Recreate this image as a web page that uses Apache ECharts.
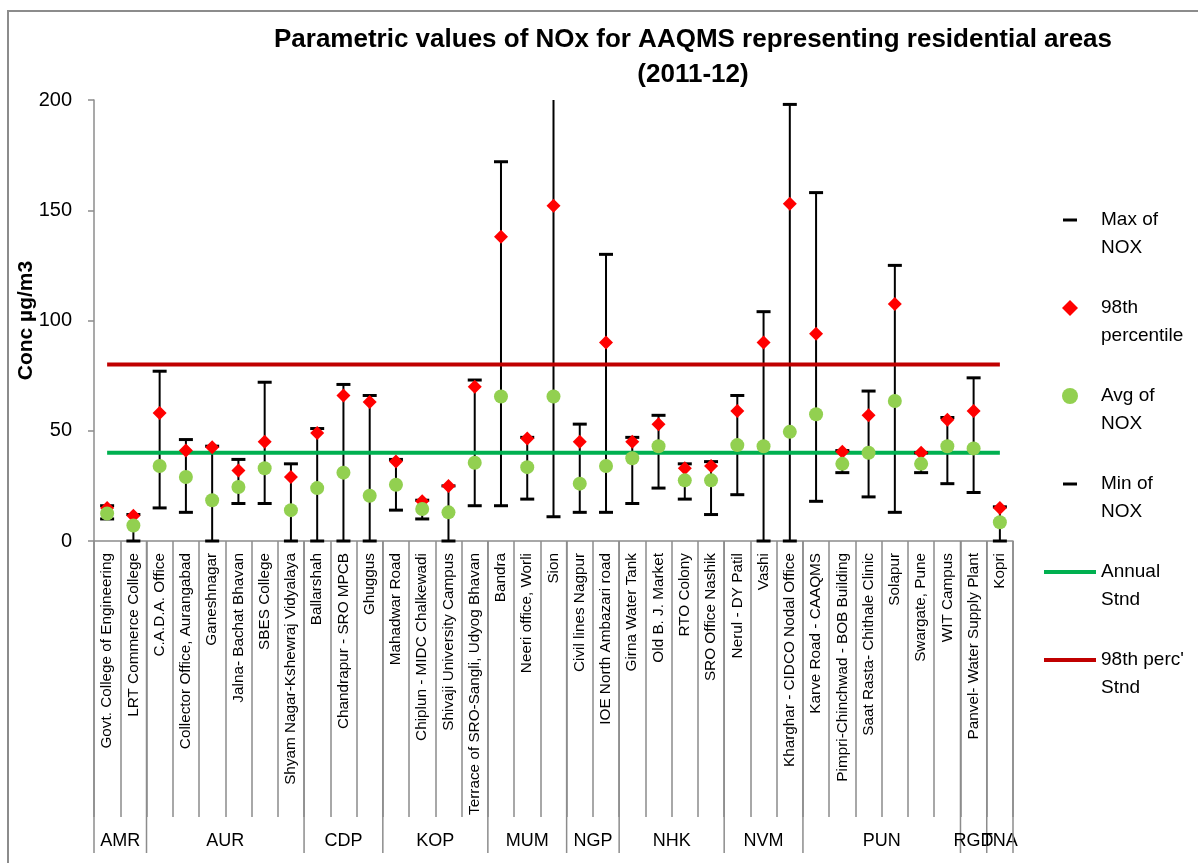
<!DOCTYPE html>
<html>
<head>
<meta charset="utf-8">
<script src="https://cdn.jsdelivr.net/npm/echarts@6/dist/echarts.min.js"></script>
<style>
html,body{margin:0;padding:0;background:#fff;}
#chart{width:1198px;height:863px;}
</style>
</head>
<body>
<div id="chart"></div>
<script>
const stations = ["Govt. College of Engineering","LRT Commerce College","C.A.D.A. Office","Collector Office, Aurangabad","Ganeshnagar","Jalna- Bachat Bhavan","SBES College","Shyam Nagar-Kshewraj Vidyalaya","Ballarshah","Chandrapur - SRO MPCB","Ghuggus","Mahadwar Road","Chiplun - MIDC Chalkewadi","Shivaji University Campus","Terrace of SRO-Sangli, Udyog Bhavan","Bandra","Neeri office, Worli","Sion","Civil lines Nagpur","IOE North Ambazari road","Girna Water Tank","Old B. J. Market","RTO Colony","SRO Office Nashik","Nerul - DY Patil","Vashi","Kharghar - CIDCO Nodal Office","Karve Road - CAAQMS","Pimpri-Chinchwad - BOB Building","Saat Rasta- Chithale Clinic","Solapur","Swargate, Pune","WIT Campus","Panvel- Water Supply Plant","Kopri"];
const maxNOX = [16,12,77,46,43,37,72,35,51,71,66,37,18.5,25,73,172,47,210,53,130,47,57,35,36,66,104,198,158,41,68,125,40,56,74,15.5];
const p98NOX = [15,11.5,58,41,42.5,32,45,29,49,66,63,36,18,25,70,138,46.5,152,45,90,45,53,33,34,59,90,153,94,40.5,57,107.5,40,55,59,15];
const avgNOX = [12.5,7,34,29,18.5,24.5,33,14,24,31,20.5,25.5,14.5,13,35.5,65.5,33.5,65.5,26,34,37.5,43,27.5,27.5,43.5,43,49.5,57.5,35,40,63.5,35,43,42,8.5];
const minNOX = [10,0,15,13,0,17,17,0,0,0,0,14,10,0,16,16,19,11,13,13,17,24,19,12,21,0,0,18,31,20,13,31,26,22,0];
const groupNames = ["AMR","AUR","CDP","KOP","MUM","NGP","NHK","NVM","PUN","RGD","TNA"];
const groupStart = [0,2,8,11,15,18,20,24,27,33,34];
const groupEnd   = [2,8,11,15,18,20,24,27,33,34,35];
const annualStnd = 40;
const perc98Stnd = 80;
const yTicks = [0,50,100,150,200];

const FONT = "'Liberation Sans Narrow','Arial Narrow','Liberation Sans',Arial,sans-serif";
const annualLine = stations.map(() => annualStnd);
const percLine = stations.map(() => perc98Stnd);

const iconW = 52;
const dashIcon = 'path://M0,0M' + iconW + ',16M' + (iconW/2 - 7) + ',6.5h14v3h-14Z';
const diamondIcon = 'path://M0,0M' + iconW + ',16M' + (iconW/2) + ',0l8,8l-8,8l-8,-8Z';
const lineIcon = 'path://M0,6H' + iconW + 'V10H0Z';

const firstLine = {"Max of NOX":"Max of","98th percentile":"98th","Avg of NOX":"Avg of","Min of NOX":"Min of","Annual Stnd":"Annual","98th perc' Stnd":"98th perc'"};
const secondLine = {"Max of NOX":"NOX","98th percentile":"percentile","Avg of NOX":"NOX","Min of NOX":"NOX","Annual Stnd":"Stnd","98th perc' Stnd":"Stnd"};
const legendNames = ["Max of NOX","98th percentile","Avg of NOX","Min of NOX","Annual Stnd","98th perc' Stnd"];
const legendIcons = {"Max of NOX": dashIcon, "98th percentile": diamondIcon, "Avg of NOX": 'circle', "Min of NOX": dashIcon, "Annual Stnd": lineIcon, "98th perc' Stnd": lineIcon};

const chart = echarts.init(document.getElementById('chart'));
const legendCommon = {
  orient: 'vertical', left: 1044, padding: 0, itemWidth: iconW, itemHeight: 16, itemGap: 68, selectedMode: false,
  textStyle: {fontFamily: FONT, fontSize: 19, color: '#000', lineHeight: 20}
};
chart.setOption({
  animation: false,
  backgroundColor: '#fff',
  graphic: [{type: 'rect', shape: {x: 8, y: 11, width: 1200, height: 900}, style: {fill: 'none', stroke: '#8c8c8c', lineWidth: 2}, z: -10}],
  title: {
    text: 'Parametric values of NOx for AAQMS representing residential areas\n(2011-12)',
    left: 688, top: 17, textAlign: 'center',
    textStyle: {fontFamily: FONT, fontWeight: 'bold', fontSize: 26, lineHeight: 35, color: '#000'}
  },
  legend: [
    Object.assign({}, legendCommon, {
      top: 210,
      data: legendNames.map(n => ({name: n, icon: legendIcons[n]})),
      formatter: n => firstLine[n]
    }),
    Object.assign({}, legendCommon, {
      top: 238,
      data: legendNames.map(n => ({name: n, icon: 'none'})),
      formatter: n => secondLine[n]
    })
  ],
  grid: {left: 94, right: 185, top: 100, bottom: 322, containLabel: false},
  xAxis: {
    type: 'category', data: stations, boundaryGap: true,
    axisLine: {lineStyle: {color: '#8c8c8c', width: 1.5}},
    axisTick: {show: true, interval: 0, length: 276, lineStyle: {color: '#8c8c8c', width: 1.5}},
    axisLabel: {interval: 0, rotate: 90, margin: 12, fontFamily: FONT, fontSize: 15.3, color: '#000'},
    splitLine: {show: false}
  },
  yAxis: {
    type: 'value', min: 0, max: 200, interval: 50,
    name: 'Conc µg/m3', nameLocation: 'middle', nameGap: 57, nameRotate: 90, nameMoveOverlap: false,
    nameTextStyle: {fontFamily: FONT, fontWeight: 'bold', fontSize: 21, color: '#000'},
    axisLine: {show: true, lineStyle: {color: '#8c8c8c', width: 1.5}},
    axisTick: {show: true, length: 6, lineStyle: {color: '#8c8c8c', width: 1.5}},
    axisLabel: {fontFamily: FONT, fontSize: 20, color: '#000', margin: 22},
    splitLine: {show: false}
  },
  series: [
    {
      type: 'custom', name: 'range', clip: true, z: 1, silent: true,
      data: stations.map((s, i) => [i, minNOX[i], maxNOX[i]]),
      renderItem: function (params, api) {
        const lo = api.coord([api.value(0), api.value(1)]);
        const hi = api.coord([api.value(0), api.value(2)]);
        return {type: 'line', shape: {x1: lo[0], y1: lo[1], x2: hi[0], y2: hi[1]}, style: {stroke: '#000', lineWidth: 2}};
      }
    },
    {
      type: 'custom', name: 'groups', clip: false, z: 1, silent: true,
      data: groupNames.map((g, i) => [groupStart[i], groupEnd[i]]),
      renderItem: function (params, api) {
        const i = params.dataIndex;
        const band = api.size([1, 0])[0];
        const x0 = api.coord([groupStart[i], 0])[0] - band / 2;
        const x1 = api.coord([groupEnd[i], 0])[0] - band / 2;
        const y0 = api.coord([0, 0])[1];
        const children = [
          {type: 'line', shape: {x1: x0, y1: y0, x2: x0, y2: y0 + 312}, style: {stroke: '#8c8c8c', lineWidth: 1.5}},
          {type: 'text', style: {x: (x0 + x1) / 2, y: y0 + 300, text: groupNames[i], textAlign: 'center', textVerticalAlign: 'middle', fontFamily: FONT, fontSize: 18, fill: '#000'}}
        ];
        if (i === groupNames.length - 1) {
          children.push({type: 'line', shape: {x1: x1, y1: y0, x2: x1, y2: y0 + 312}, style: {stroke: '#8c8c8c', lineWidth: 1.5}});
        }
        return {type: 'group', children: children};
      }
    },
    {
      type: 'line', name: 'Annual Stnd', data: annualLine, symbol: 'none', showSymbol: false, z: 3,
      lineStyle: {color: '#00b050', width: 4}, itemStyle: {color: '#00b050'}
    },
    {
      type: 'line', name: "98th perc' Stnd", data: percLine, symbol: 'none', showSymbol: false, z: 3,
      lineStyle: {color: '#c00000', width: 4}, itemStyle: {color: '#c00000'}
    },
    {
      type: 'scatter', name: 'Max of NOX', data: maxNOX, symbol: 'rect', symbolSize: [14, 3], z: 4,
      itemStyle: {color: '#000', opacity: 1}
    },
    {
      type: 'scatter', name: 'Min of NOX', data: minNOX, symbol: 'rect', symbolSize: [14, 3], z: 4,
      itemStyle: {color: '#000', opacity: 1}
    },
    {
      type: 'scatter', name: '98th percentile', data: p98NOX, symbol: 'diamond', symbolSize: 14, z: 5,
      itemStyle: {color: '#ff0000', opacity: 1}
    },
    {
      type: 'scatter', name: 'Avg of NOX', data: avgNOX, symbol: 'circle', symbolSize: 14, z: 6,
      itemStyle: {color: '#92d050', opacity: 1}
    }
  ]
});
</script>
</body>
</html>
